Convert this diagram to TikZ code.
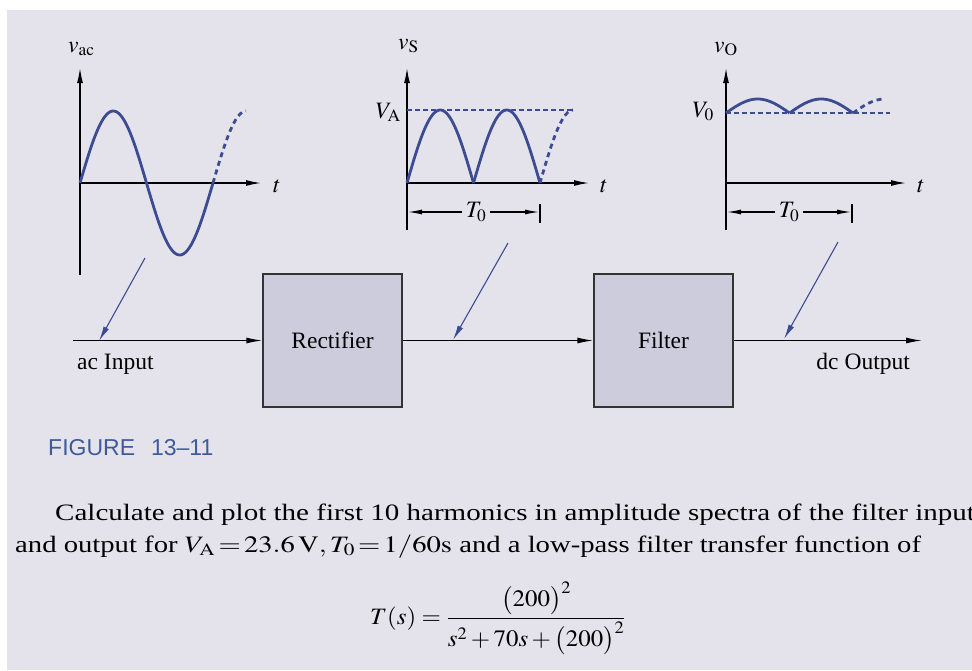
\documentclass[tikz,border=0pt]{standalone}
\usepackage{mathptmx}
\usepackage[no-math]{fontspec}
\usepackage{graphicx}
\setmainfont{Liberation Serif}
\newfontfamily\figfont{Liberation Sans}
\usetikzlibrary{arrows.meta}
\definecolor{bgcol}{HTML}{E4E3EC}
\definecolor{boxcol}{HTML}{CDCCDC}
\definecolor{wavecol}{HTML}{3D4C92}
\definecolor{capcol}{HTML}{3F5A9B}

\begin{document}
\begin{tikzpicture}[x=1pt, y=-1pt,
  font=\fontsize{23.5}{28}\selectfont,
  box/.style={draw=black!80, line width=1.3pt, fill=boxcol, minimum width=139pt, minimum height=133pt},
  axis/.style={line width=1.3pt, -{Latex[length=15pt,width=6pt]}},
  sig/.style={line width=1.3pt, -{Latex[length=16pt,width=6pt]}},
  wave/.style={wavecol, line width=2.8pt},
  ext/.style={wave, dash pattern=on 5pt off 4pt},
  lvl/.style={wavecol, line width=1.1pt, dash pattern=on 5pt off 3pt},
  ptr/.style={wavecol, line width=1.1pt, -{Latex[length=15pt,width=6pt]}},
  dim/.style={line width=1.1pt, -{Latex[length=14pt,width=5pt]}},
  lbl/.style={inner sep=0}
]
\useasboundingbox (0,0) rectangle (972,670);
\clip (0,0) rectangle (972,670);
\fill[bgcol] (7,10) rectangle (972,670);

% input waveform
\coordinate (o1) at (80,183);
\draw[axis] (80,275) -- (80,68);
\draw[axis] (o1) -- (261,183);
\node[lbl, anchor=base west] (vac) at (68,52) {$v_{\mathrm{ac}}$};
\node[lbl, anchor=base west] (t1) at (273,192) {$t$};
\draw[wave] plot[domain=80:213, samples=80] (\x, {183-72*sin(2.7068*(\x-80))});
\draw[ext] plot[domain=213:246, samples=20] (\x, {183-72*sin(2.7068*(\x-80))});

% rectified waveform
\coordinate (o2) at (407,183);
\draw[axis] (407,230) -- (407,68);
\draw[axis] (o2) -- (589,183);
\draw[lvl] (407,110) -- (573,110);
\draw[wave] plot[domain=407:473.5, samples=50] (\x, {183-73*sin(2.7068*(\x-407))});
\draw[wave] plot[domain=473.5:540, samples=50] (\x, {183-73*sin(2.7068*(\x-473.5))});
\draw[ext] plot[domain=540:573, samples=20] (\x, {183-73*sin(2.7068*(\x-540))});
\node[lbl, anchor=base west] (vs) at (398,49) {$v_{\mathrm{S}}$};
\node[lbl, anchor=base east] (va) at (401,118) {$V_{\mathrm{A}}$};
\node[lbl, anchor=base west] (t2) at (600,192) {$t$};
\draw[line width=1.1pt] (540,204) -- (540,223);
\node (t0a) at (476,212) {$T_0$};
\draw[dim] (t0a.west) -- (408,212);
\draw[dim] (t0a.east) -- (539,212);

% filtered waveform
\coordinate (o3) at (726,183);
\draw[axis] (726,230) -- (726,68);
\draw[axis] (o3) -- (906,183);
\draw[lvl] (726,113) -- (890,113);
\draw[wave] plot[domain=726:789.5, samples=40] (\x, {113-14*sin(2.8346*(\x-726))});
\draw[wave] plot[domain=789.5:853, samples=40] (\x, {113-14*sin(2.8346*(\x-789.5))});
\draw[ext] plot[domain=853:885, samples=20] (\x, {113-14*sin(2.8346*(\x-853))});
\node[lbl, anchor=base west] (vo) at (714,52) {$v_{\mathrm{O}}$};
\node[lbl, anchor=base east] (v0) at (714,117) {$V_0$};
\node[lbl, anchor=base west] (t3) at (917,192) {$t$};
\draw[line width=1.1pt] (852,204) -- (852,223);
\node (t0b) at (789,212) {$T_0$};
\draw[dim] (t0b.west) -- (727,212);
\draw[dim] (t0b.east) -- (851,212);

% block chain
\coordinate (in) at (73,340.5);
\node[box] (rect) at (332.5,340.5) {Rectifier};
\node[box] (filt) at (663.5,340.5) {Filter};
\coordinate (out) at (922,340.5);
\draw[sig] (in) -- (rect);
\draw[sig] (rect) -- (filt);
\draw[sig] (filt) -- (out);
\node[lbl, anchor=west] (acin) at (77,364) {ac Input};
\node[lbl, anchor=east] (dcout) at (910,364) {dc Output};

\coordinate (p1a) at (145,258); \coordinate (p1b) at (99,341);
\coordinate (p2a) at (508,243); \coordinate (p2b) at (453,340);
\coordinate (p3a) at (838,242); \coordinate (p3b) at (784,339);
\draw[ptr] (p1a) -- (p1b);
\draw[ptr] (p2a) -- (p2b);
\draw[ptr] (p3a) -- (p3b);

\node[lbl, anchor=west, text=capcol, font=\figfont\fontsize{23}{27}\selectfont] (fig) at (48,448) {FIGURE\hspace{16pt}13–11};

\node[lbl, anchor=base west] (par1) at (55,520) {\scalebox{1.235}[1]{Calculate and plot the first 10 harmonics in amplitude spectra of the filter input}};
\node[lbl, anchor=base west] (par2) at (15,552) {\scalebox{1.22}[1]{and output for $V_{\mathrm{A}}\mskip2mu{=}\mskip2mu23.6\,\mathrm{V}, T_0\mskip2mu{=}\mskip2mu1/60\mathrm{s}$ and a low-pass filter transfer function of}};
\node[lbl, anchor=base west] (tf) at (370,624) {\scalebox{1.06}[1]{$\displaystyle T(s) = \frac{\bigl(200\bigr)^2}{s^2+70s+\bigl(200\bigr)^2}$}};
\end{tikzpicture}
\end{document}
